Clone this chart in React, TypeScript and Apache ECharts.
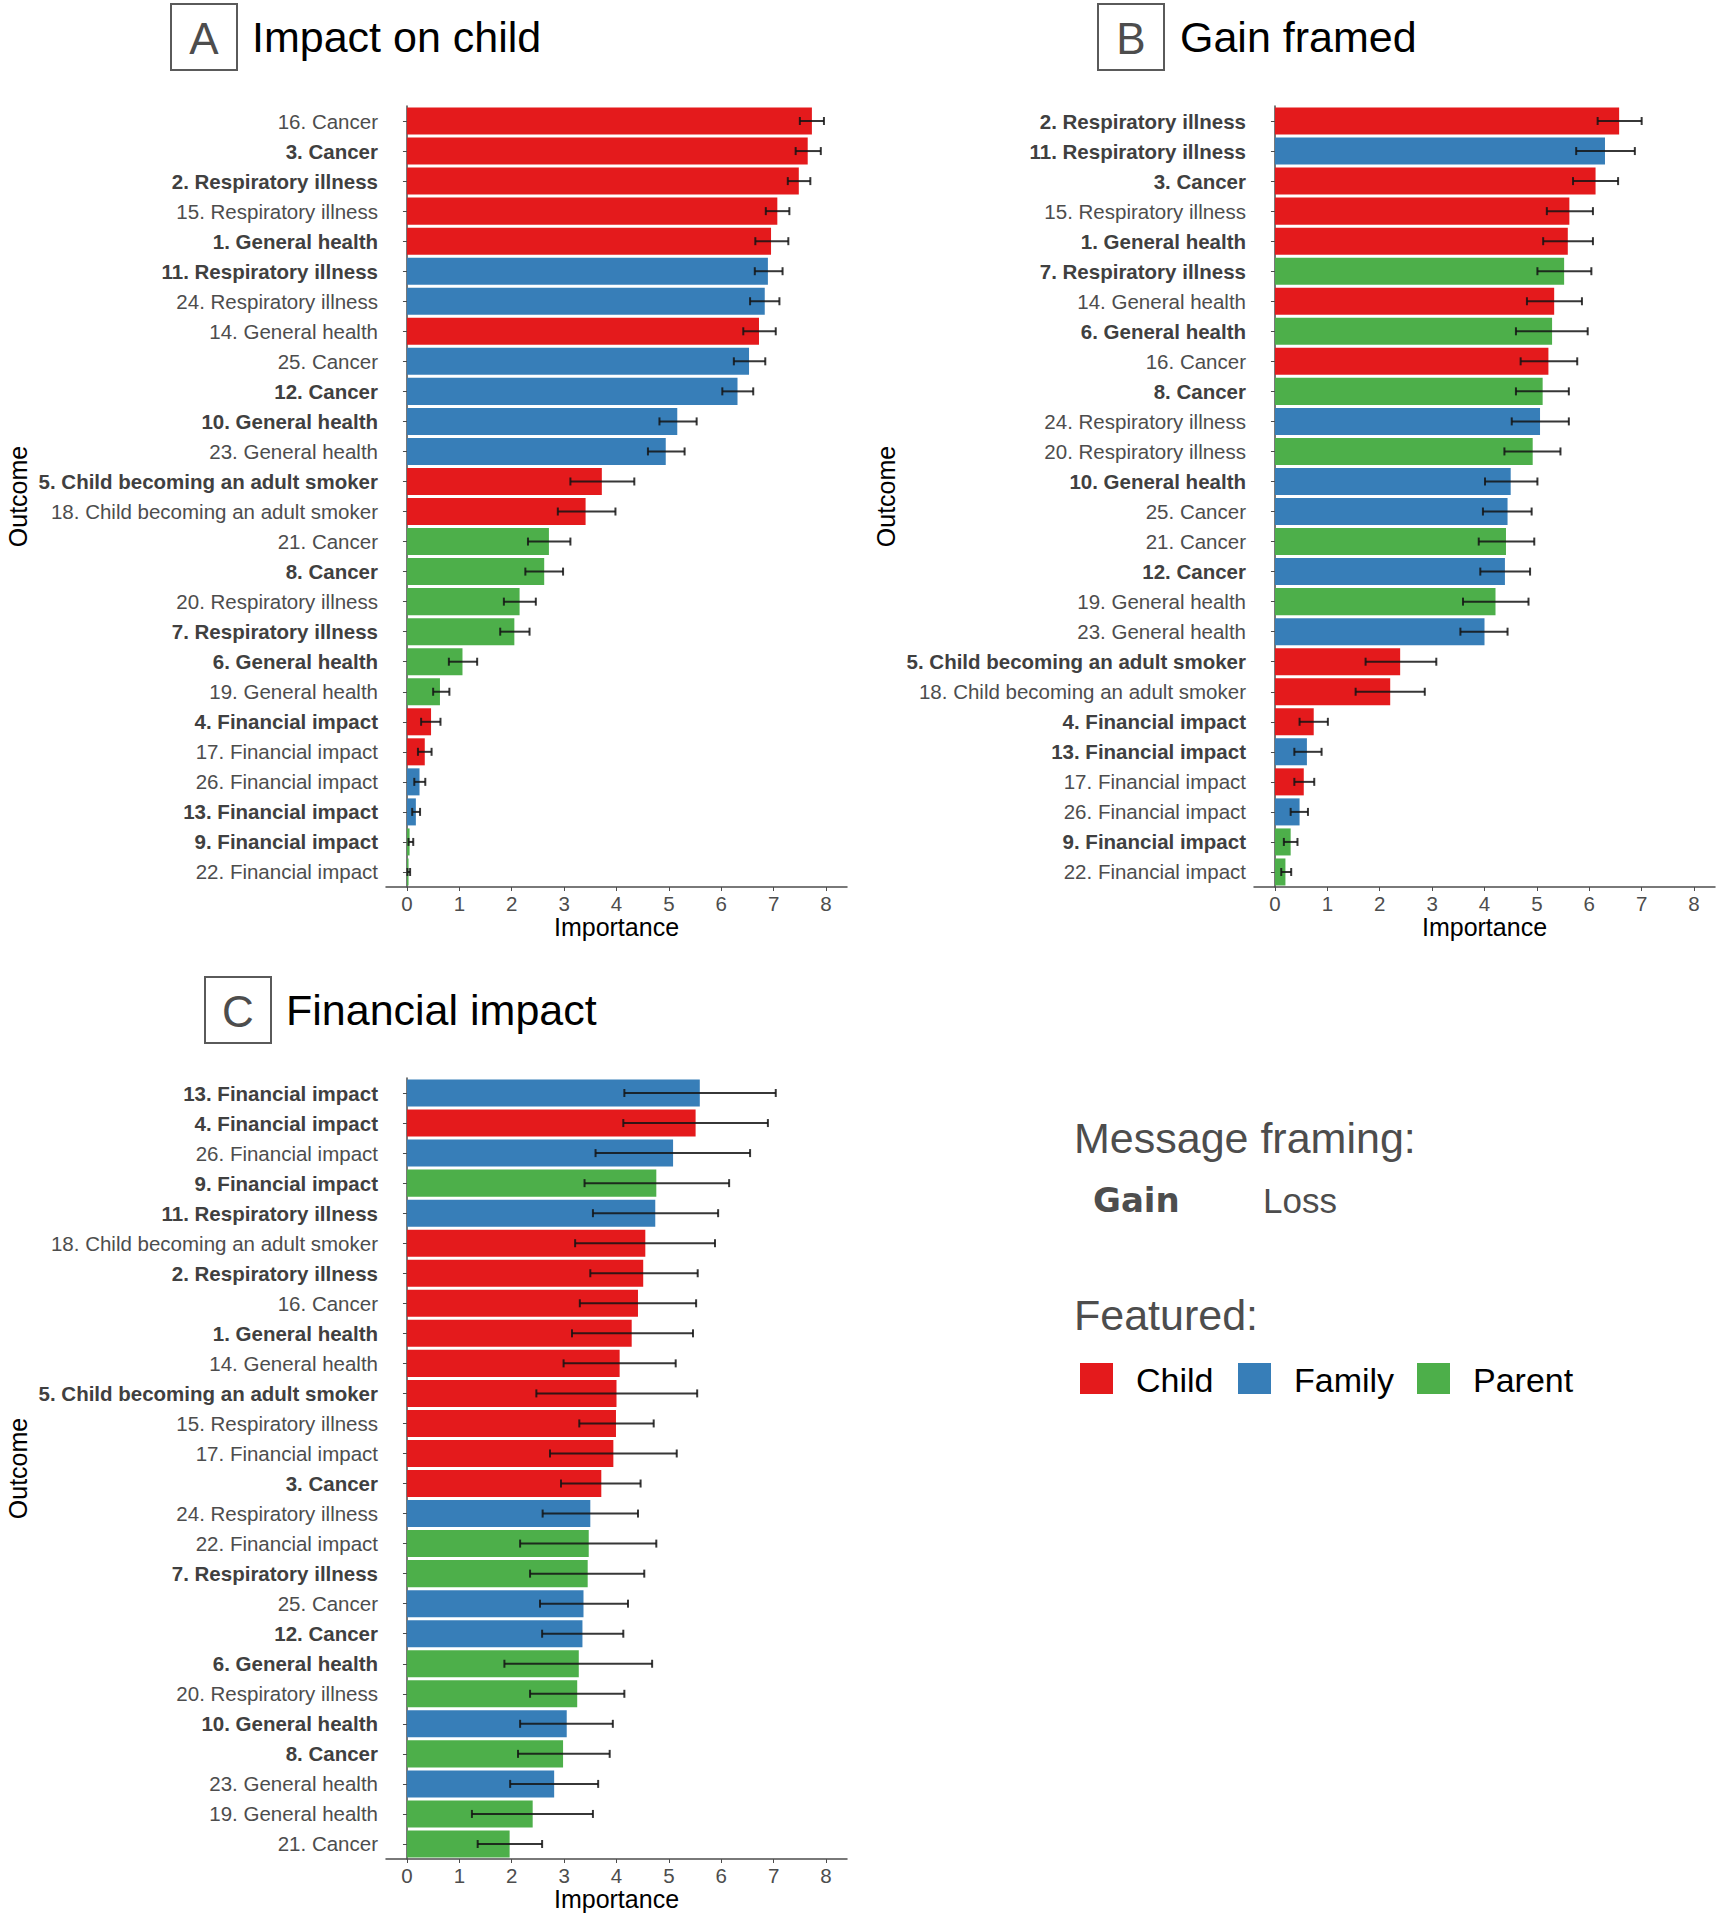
import React, { useEffect, useRef } from "react";
import * as echarts from "echarts";

// ---------- data ----------
const outcomeNames: string[] = [
  "General health", "Respiratory illness", "Cancer", "Financial impact", "Child becoming an adult smoker",
  "General health", "Respiratory illness", "Cancer", "Financial impact",
  "General health", "Respiratory illness", "Cancer", "Financial impact",
  "General health", "Respiratory illness", "Cancer", "Financial impact", "Child becoming an adult smoker",
  "General health", "Respiratory illness", "Cancer", "Financial impact",
  "General health", "Respiratory illness", "Cancer", "Financial impact",
];
const featured: string[] = [
  "Child", "Child", "Child", "Child", "Child",
  "Parent", "Parent", "Parent", "Parent",
  "Family", "Family", "Family", "Family",
  "Child", "Child", "Child", "Child", "Child",
  "Parent", "Parent", "Parent", "Parent",
  "Family", "Family", "Family", "Family",
];
const gainItems: number[] = [1, 2, 3, 4, 5, 6, 7, 8, 9, 10, 11, 12, 13];

const featuredNames = ["Child", "Family", "Parent"];
const featuredColors: Record<string, string> = { Child: "#E41A1C", Family: "#377EB8", Parent: "#4DAF4A" };

const xTicks = [0, 1, 2, 3, 4, 5, 6, 7, 8];

// Panel A: Impact on child
const orderA = [16, 3, 2, 15, 1, 11, 24, 14, 25, 12, 10, 23, 5, 18, 21, 8, 20, 7, 6, 19, 4, 17, 26, 13, 9, 22];
const valuesA = [7.73, 7.65, 7.48, 7.07, 6.95, 6.89, 6.83, 6.72, 6.53, 6.31, 5.16, 4.94, 3.72, 3.41, 2.71, 2.62, 2.15, 2.05, 1.06, 0.63, 0.46, 0.34, 0.24, 0.17, 0.05, 0.03];
const lowA = [7.50, 7.42, 7.27, 6.85, 6.65, 6.64, 6.55, 6.42, 6.24, 6.02, 4.82, 4.60, 3.12, 2.88, 2.31, 2.26, 1.85, 1.78, 0.80, 0.50, 0.27, 0.21, 0.14, 0.10, 0.03, 0.01];
const highA = [7.96, 7.90, 7.70, 7.30, 7.28, 7.17, 7.11, 7.04, 6.84, 6.61, 5.53, 5.30, 4.34, 3.98, 3.12, 2.98, 2.46, 2.34, 1.34, 0.81, 0.64, 0.47, 0.35, 0.25, 0.12, 0.06];

// Panel B: Gain framed
const orderB = [2, 11, 3, 15, 1, 7, 14, 6, 16, 8, 24, 20, 10, 25, 21, 12, 19, 23, 5, 18, 4, 13, 17, 26, 9, 22];
const valuesB = [6.57, 6.30, 6.12, 5.62, 5.59, 5.52, 5.33, 5.29, 5.22, 5.11, 5.06, 4.92, 4.50, 4.44, 4.41, 4.39, 4.21, 4.00, 2.39, 2.20, 0.74, 0.61, 0.55, 0.47, 0.30, 0.20];
const lowB = [6.16, 5.75, 5.69, 5.19, 5.12, 5.01, 4.81, 4.60, 4.69, 4.60, 4.52, 4.38, 4.01, 3.97, 3.89, 3.92, 3.59, 3.54, 1.73, 1.54, 0.47, 0.37, 0.37, 0.30, 0.17, 0.12];
const highB = [7.00, 6.87, 6.55, 6.07, 6.07, 6.04, 5.86, 5.97, 5.77, 5.61, 5.61, 5.45, 5.01, 4.90, 4.95, 4.87, 4.84, 4.44, 3.08, 2.86, 1.01, 0.89, 0.75, 0.63, 0.43, 0.31];

// Panel C: Financial impact
const orderC = [13, 4, 26, 9, 11, 18, 2, 16, 1, 14, 5, 15, 17, 3, 24, 22, 7, 25, 12, 6, 20, 10, 8, 23, 19, 21];
const valuesC = [5.59, 5.51, 5.08, 4.76, 4.74, 4.55, 4.51, 4.41, 4.29, 4.06, 4.00, 3.99, 3.94, 3.71, 3.50, 3.47, 3.45, 3.37, 3.35, 3.28, 3.25, 3.05, 2.98, 2.81, 2.40, 1.96];
const lowC = [4.15, 4.13, 3.60, 3.39, 3.55, 3.21, 3.50, 3.30, 3.15, 2.99, 2.47, 3.29, 2.73, 2.94, 2.59, 2.16, 2.35, 2.54, 2.58, 1.86, 2.35, 2.16, 2.12, 1.97, 1.24, 1.35];
const highC = [7.04, 6.89, 6.55, 6.15, 5.94, 5.88, 5.55, 5.52, 5.46, 5.13, 5.54, 4.71, 5.15, 4.46, 4.41, 4.76, 4.53, 4.22, 4.13, 4.68, 4.15, 3.93, 3.87, 3.65, 3.55, 2.58];

// ---------- styling ----------
const FONT = "'Liberation Sans', Arial, Helvetica, sans-serif";
const AXIS_GREY = "#4d4d4d";
const LABEL_SIZE = 20.5;

function App() {
  const ref = useRef<HTMLDivElement>(null);

  useEffect(() => {
    if (!ref.current) return;
    const chart = echarts.init(ref.current, undefined, { renderer: "svg" });

    const panels = [
      { order: orderA, values: valuesA, low: lowA, high: highA, left: 386, top: 106 },
      { order: orderB, values: valuesB, low: lowB, high: highB, left: 1254, top: 106 },
      { order: orderC, values: valuesC, low: lowC, high: highC, left: 386, top: 1078 },
    ];
    const PW = 461;
    const PH = 781;

    const grid: any[] = [];
    const xAxis: any[] = [];
    const yAxis: any[] = [];
    const series: any[] = [];

    panels.forEach((p, gi) => {
      const cats = p.order.map((n) => `${n}. ${outcomeNames[n - 1]}`);
      grid.push({ left: p.left, top: p.top, width: PW, height: PH, containLabel: false });
      xAxis.push({
        type: "value",
        gridIndex: gi,
        min: -0.4,
        max: 8.4,
        splitLine: { show: false },
        axisLine: { show: true, lineStyle: { color: AXIS_GREY, width: 1.5 } },
        axisTick: { show: true, length: 4, customValues: xTicks, lineStyle: { color: AXIS_GREY } },
        axisLabel: {
          customValues: xTicks,
          fontSize: LABEL_SIZE,
          color: AXIS_GREY,
          fontFamily: FONT,
          margin: 6,
        },
        name: "Importance",
        nameLocation: "middle",
        nameGap: 27,
        nameTextStyle: { fontSize: 25, color: "#000", fontFamily: FONT, verticalAlign: "top" },
      });
      yAxis.push({
        type: "category",
        gridIndex: gi,
        data: cats,
        inverse: true,
        axisLine: { show: true, lineStyle: { color: AXIS_GREY, width: 1.5 } },
        axisTick: { show: true, length: 4, alignWithLabel: true, lineStyle: { color: AXIS_GREY } },
        axisLabel: {
          margin: 8,
          interval: 0,
          formatter: (v: string) => {
            const n = parseInt(v, 10);
            return gainItems.indexOf(n) >= 0 ? `{b|${v}}` : `{r|${v}}`;
          },
          rich: {
            b: { fontSize: LABEL_SIZE, fontWeight: "bold", color: "#404040", fontFamily: FONT },
            r: { fontSize: LABEL_SIZE, fontWeight: "normal", color: AXIS_GREY, fontFamily: FONT },
          },
        },
        name: "Outcome",
        nameLocation: "middle",
        nameRotate: 90,
        nameGap: 356,
        nameTextStyle: { fontSize: 25, color: "#000", fontFamily: FONT },
      });
      series.push({
        type: "bar",
        xAxisIndex: gi,
        yAxisIndex: gi,
        barCategoryGap: "10%",
        data: p.values.map((v, i) => ({
          value: v,
          itemStyle: { color: featuredColors[featured[p.order[i] - 1]] },
        })),
        z: 2,
      });
      series.push({
        type: "custom",
        xAxisIndex: gi,
        yAxisIndex: gi,
        z: 5,
        encode: { x: [0, 1], y: 2 },
        data: p.low.map((lo, i) => [lo, p.high[i], i]),
        renderItem: (params: any, api: any) => {
          const lo = api.value(0);
          const hi = api.value(1);
          const idx = api.value(2);
          const a = api.coord([lo, idx]);
          const b = api.coord([hi, idx]);
          const h = 4;
          const style = { stroke: "rgba(20,20,20,0.85)", lineWidth: 2 };
          return {
            type: "group",
            children: [
              { type: "line", shape: { x1: a[0], y1: a[1], x2: b[0], y2: b[1] }, style },
              { type: "line", shape: { x1: a[0], y1: a[1] - h, x2: a[0], y2: a[1] + h }, style },
              { type: "line", shape: { x1: b[0], y1: b[1] - h, x2: b[0], y2: b[1] + h }, style },
            ],
          };
        },
      });
    });

    const titleBox = (x: number, y: number, letter: string, title: string, titleX: number) => [
      { type: "rect", shape: { x, y, width: 66, height: 66 }, style: { fill: "none", stroke: "#5a5a5a", lineWidth: 2 } },
      {
        type: "text",
        x: x + 33,
        y: y + 34,
        style: { text: letter, fontSize: 44, fontFamily: FONT, fill: "#4d4d4d", align: "center", verticalAlign: "middle" },
      },
      {
        type: "text",
        x: titleX,
        y: y + 33,
        style: { text: title, fontSize: 43, fontFamily: FONT, fill: "#000", align: "left", verticalAlign: "middle" },
      },
    ];

    const legendItems: any[] = [];
    const legX = [1080, 1238, 1417];
    featuredNames.forEach((name, i) => {
      legendItems.push({
        type: "rect",
        shape: { x: legX[i], y: 1363, width: 33, height: 31 },
        style: { fill: featuredColors[name] },
      });
      legendItems.push({
        type: "text",
        x: legX[i] + 56,
        y: 1380,
        style: { text: name, fontSize: 34, fontFamily: FONT, fill: "#000", align: "left", verticalAlign: "middle" },
      });
    });

    const graphic: any[] = [
      ...titleBox(171, 4, "A", "Impact on child", 252),
      ...titleBox(1098, 4, "B", "Gain framed", 1180),
      ...titleBox(205, 977, "C", "Financial impact", 286),
      {
        type: "text", x: 1074, y: 1138,
        style: { text: "Message framing:", fontSize: 43, fontFamily: FONT, fill: "#4d4d4d", align: "left", verticalAlign: "middle" },
      },
      {
        type: "text", x: 1093, y: 1200,
        style: { text: "Gain", fontSize: 34, fontWeight: "bold", fontFamily: "'DejaVu Sans', sans-serif", fill: "#4d4d4d", align: "left", verticalAlign: "middle" },
      },
      {
        type: "text", x: 1263, y: 1200,
        style: { text: "Loss", fontSize: 35, fontFamily: FONT, fill: "#4d4d4d", align: "left", verticalAlign: "middle" },
      },
      {
        type: "text", x: 1074, y: 1315,
        style: { text: "Featured:", fontSize: 43, fontFamily: FONT, fill: "#4d4d4d", align: "left", verticalAlign: "middle" },
      },
      ...legendItems,
    ];

    chart.setOption({
      animation: false,
      backgroundColor: "#ffffff",
      textStyle: { fontFamily: FONT },
      grid,
      xAxis,
      yAxis,
      series,
      graphic,
    });

    return () => {
      chart.dispose();
    };
  }, []);

  return (
    <div
      ref={ref}
      style={{ position: "absolute", left: 0, top: 0, width: 1727, height: 1920, background: "#fff" }}
    />
  );
}

export default App;
